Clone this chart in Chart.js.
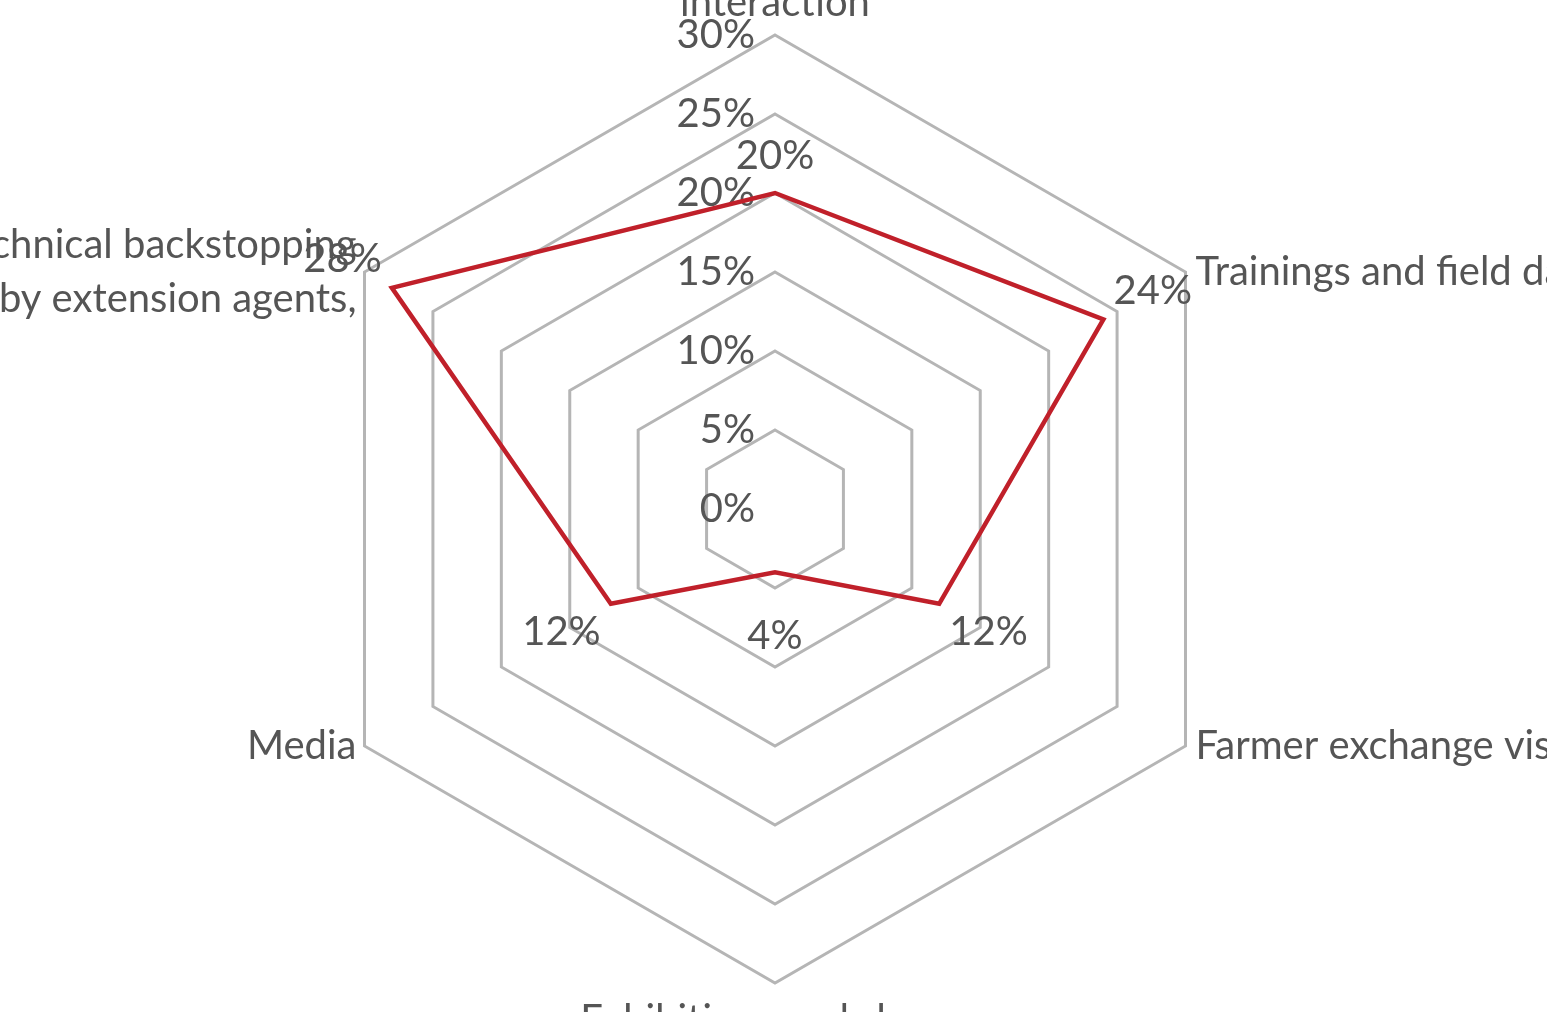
<!DOCTYPE html>
<html>
<head>
<meta charset="utf-8">
<script src="https://cdn.jsdelivr.net/npm/chart.js@4.4.0/dist/chart.umd.min.js"></script>
<style>
  html, body { margin: 0; padding: 0; background: #fff; overflow: hidden; }
  canvas { display: block; }
</style>
</head>
<body>
<canvas id="radar" width="1547" height="1012"></canvas>
<script>
// Sources of information, share of respondents (%)
const categories = [
  ['Farmer to farmer', 'interaction'],
  ['Trainings and field days'],
  ['Farmer exchange visits'],
  ['Exhibitions and shows'],
  ['Media'],
  ['Technical backstopping', 'by extension agents,']
];
const shares = [20, 24, 12, 4, 12, 28];
const tickValues = [0, 5, 10, 15, 20, 25, 30];

const TEXT_FONT = '40px Lato';
const TEXT_COLOR = '#555555';
const LINE_HEIGHT = 54;

// distance (px) of each value label from its point, along the spoke
const valueLabelGap = [37, 57, 57, 64, 57, 57];

const radarText = {
  id: 'radarText',
  beforeDatasetsDraw(chart) {
    const scale = chart.scales.r;
    const ctx = chart.ctx;
    ctx.save();
    ctx.font = TEXT_FONT;
    ctx.fillStyle = TEXT_COLOR;

    // percentage ticks up the left side of the vertical spoke
    ctx.textAlign = 'right';
    ctx.textBaseline = 'middle';
    tickValues.forEach(v => {
      const y = scale.yCenter - scale.getDistanceFromCenterForValue(v);
      ctx.fillText(v + '%', scale.xCenter - 20, y);
    });

    // category names at the outer ring
    const outer = scale.getDistanceFromCenterForValue(scale.max);
    categories.forEach((lines, i) => {
      const p = scale.getPointPosition(i, outer);
      const a = scale.getIndexAngle(i);
      const sx = Math.sin(a);
      const cy = -Math.cos(a);
      if (Math.abs(sx) < 0.1) {
        ctx.textAlign = 'center';
        if (cy < 0) {
          lines.forEach((t, k) => {
            ctx.fillText(t, p.x, p.y - 32 - (lines.length - 1 - k) * LINE_HEIGHT);
          });
        } else {
          lines.forEach((t, k) => ctx.fillText(t, p.x, p.y + 37 + k * LINE_HEIGHT));
        }
      } else {
        ctx.textAlign = sx > 0 ? 'left' : 'right';
        const x = sx > 0 ? p.x + 10 : p.x - 8;
        const top = p.y - (lines.length - 1) * LINE_HEIGHT / 2;
        lines.forEach((t, k) => ctx.fillText(t, x, top + k * LINE_HEIGHT));
      }
    });
    ctx.restore();
  },
  afterDatasetsDraw(chart) {
    const scale = chart.scales.r;
    const ctx = chart.ctx;
    ctx.save();
    ctx.font = TEXT_FONT;
    ctx.fillStyle = TEXT_COLOR;
    ctx.textAlign = 'center';
    ctx.textBaseline = 'middle';
    shares.forEach((v, i) => {
      const d = scale.getDistanceFromCenterForValue(v) + valueLabelGap[i];
      const p = scale.getPointPosition(i, d);
      ctx.fillText(v + '%', p.x, p.y);
    });
    ctx.restore();
  }
};

new Chart(document.getElementById('radar'), {
  type: 'radar',
  data: {
    labels: categories,
    datasets: [{
      data: shares,
      borderColor: '#c0202a',
      borderWidth: 4.5,
      fill: false,
      pointRadius: 0,
      tension: 0
    }]
  },
  options: {
    responsive: false,
    animation: false,
    layout: { padding: { left: 301, right: 298, top: 35, bottom: 29 } },
    plugins: { legend: { display: false }, tooltip: { enabled: false } },
    scales: {
      r: {
        min: 0,
        max: 30,
        ticks: { stepSize: 5, display: false },
        grid: { color: '#b5b5b5', lineWidth: 3 },
        angleLines: { display: false },
        pointLabels: { display: false }
      }
    }
  },
  plugins: [radarText]
});
</script>
</body>
</html>
